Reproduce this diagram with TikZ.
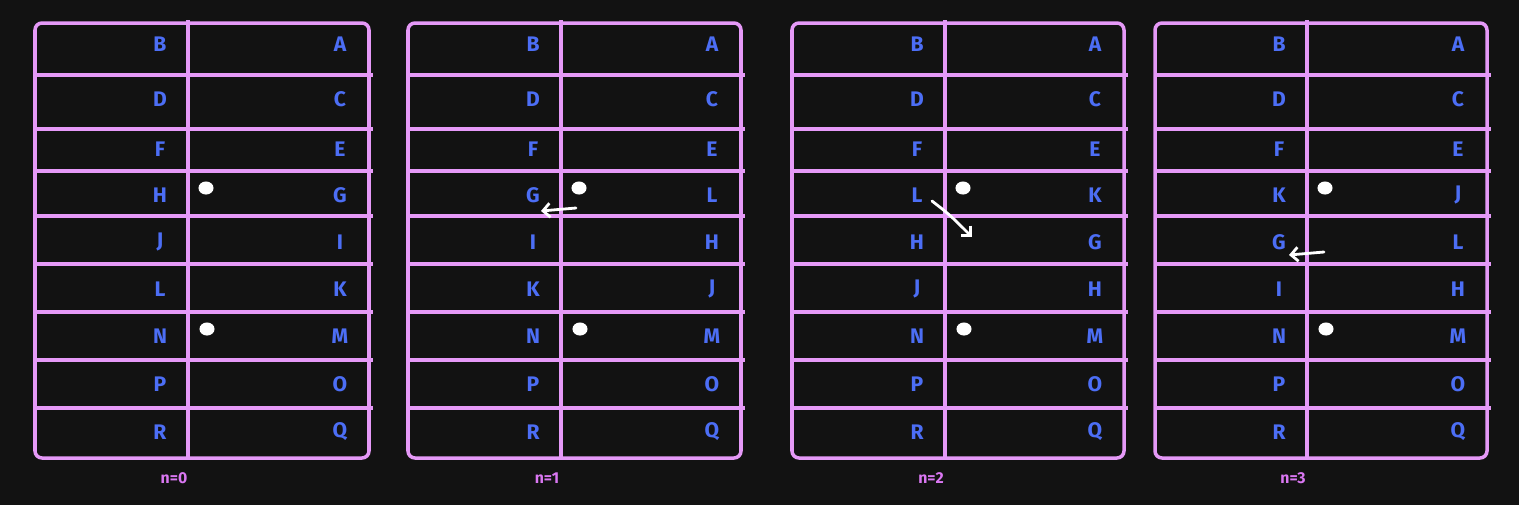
\documentclass[tikz,border=0pt]{standalone}
\usepackage{fontspec}
\setmainfont{Fira Sans}
\usetikzlibrary{arrows.meta}

\definecolor{bg}{HTML}{121212}
\definecolor{grid}{HTML}{E599F7}
\definecolor{letter}{HTML}{4C6EF5}
\definecolor{caption}{HTML}{DA77F2}

\tikzset{
  line/.style={grid, line width=2pt},
  letter/.style={text=letter, font=\fontsize{12}{14}\selectfont\bfseries, inner sep=0pt},
  caption/.style={text=caption, font=\fontsize{9}{11}\selectfont\bfseries, inner sep=0pt},
  blob/.style={fill=white, draw=white, line width=0.6pt},
  move/.style={white, line width=1.6pt, line cap=round, -{Straight Barb[length=4pt,width=8pt]}}
}

% one table: name, left x, middle x, right x, left letters, right letters, caption
\newcommand{\sheet}[7]{
  \draw[line, rounded corners=4pt] (#2,23) rectangle (#4,458);
  \draw[line] (#3,20) -- (#3,458);
  \foreach \y in {75,129,171,216,264,312,360,408}
    \draw[line] (#2,\y) -- (#4+4,\y);
  \foreach \l [count=\i] in {#5} {
    \pgfmathsetmacro\ly{{44,99,149,195,242,289,336,384,432}[\i-1]}
    \node[letter] (#1l\i) at (#3-28,\ly) {\l};
  }
  \foreach \l [count=\i] in {#6} {
    \pgfmathsetmacro\ly{{44,99,149,195,242,289,336,384,432}[\i-1]}
    \node[letter] (#1r\i) at (#4-29,\ly) {\l};
  }
  \node[caption] (#1cap) at (#3-14,478) {#7};
  \filldraw[blob] (#3+18,188) ellipse (7 and 6);
  \filldraw[blob] (#3+19,329) ellipse (7 and 6);
}

\begin{document}
\begin{tikzpicture}[x=0.02cm, y=-0.02cm]
\fill[bg] (0,0) rectangle (1519,505);

\sheet{a}{35}{188}{369}{B,D,F,H,J,L,N,P,R}{A,C,E,G,I,K,M,O,Q}{n=0}
\sheet{b}{408}{561}{741}{B,D,F,G,I,K,N,P,R}{A,C,E,L,H,J,M,O,Q}{n=1}
\sheet{c}{792}{945}{1124}{B,D,F,L,H,J,N,P,R}{A,C,E,K,G,H,M,O,Q}{n=2}
\sheet{d}{1155}{1307}{1487}{B,D,F,K,G,I,N,P,R}{A,C,E,J,L,H,M,O,Q}{n=3}

% swaps
\coordinate (bfrom) at (576,208);
\coordinate (bto) at (541,211);
\draw[move] (bfrom) -- (bto);

\coordinate (cfrom) at (932,201);
\coordinate (cto) at (972,237);
\draw[move] (cfrom) .. controls (950,215) .. (cto);

\coordinate (dfrom) at (1324,252);
\coordinate (dto) at (1289,255);
\draw[move] (dfrom) -- (dto);
\end{tikzpicture}
\end{document}
